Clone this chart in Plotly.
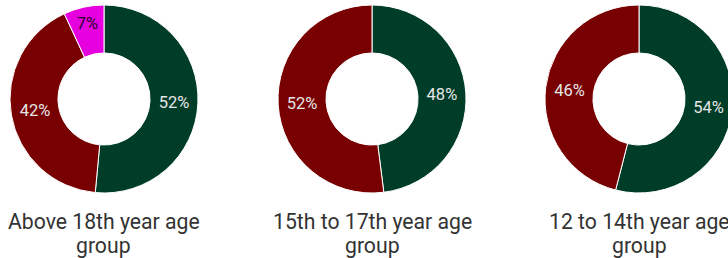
import plotly.graph_objects as go

groups = ["Above 18th year age group", "15th to 17th year age group", "12 to 14th year age group"]
title_line1 = ["Above 18th year age", "15th to 17th year age", "12 to 14th year age"]
title_line2 = ["group", "group", "group"]
slice_labels = [["Yes", "No", "Maybe"], ["Yes", "No"], ["Yes", "No"]]
values = [[52, 42, 7], [48, 52], [54, 46]]

slice_colors = {"Yes": "#003d28", "No": "#780000", "Maybe": "#e600e0"}
text_colors = {"Yes": "#e6e6e6", "No": "#e6e6e6", "Maybe": "#2a0030"}

W, H = 745, 258
centers_px = [104, 372, 639]
R = 94
top_px, bottom_px = 5, 193

fig = go.Figure()
for i, (g, labs, vals) in enumerate(zip(groups, slice_labels, values)):
    cx = centers_px[i]
    fig.add_trace(go.Pie(
        labels=labs,
        values=vals,
        name=g,
        hole=0.49,
        sort=False,
        direction="clockwise",
        rotation=0,
        marker=dict(colors=[slice_colors[l] for l in labs], line=dict(color="#ffffff", width=1)),
        texttemplate="%{value}%",
        textposition="inside",
        insidetextorientation="horizontal",
        textfont=dict(family="Roboto", size=16.5, color=[text_colors[l] for l in labs]),
        domain=dict(x=[(cx - R) / W, (cx + R) / W], y=[1 - bottom_px / H, 1 - top_px / H]),
        showlegend=False,
        hoverinfo="label+percent",
    ))
    for txt, ymid in ((title_line1[i], 221.5), (title_line2[i], 245.5)):
        fig.add_annotation(
            x=cx / W, y=1 - ymid / H, xref="paper", yref="paper",
            text=txt, showarrow=False, xanchor="center", yanchor="middle",
            font=dict(family="Roboto", size=21.2, color="#333333"), align="center",
        )

fig.update_layout(
    width=W, height=H,
    margin=dict(l=0, r=0, t=0, b=0),
    paper_bgcolor="#ffffff", plot_bgcolor="#ffffff",
)
fig.write_html(
    "out.html",
    config={"displayModeBar": False},
    post_script="document.body.style.margin='0';document.body.style.overflow='hidden';",
)
